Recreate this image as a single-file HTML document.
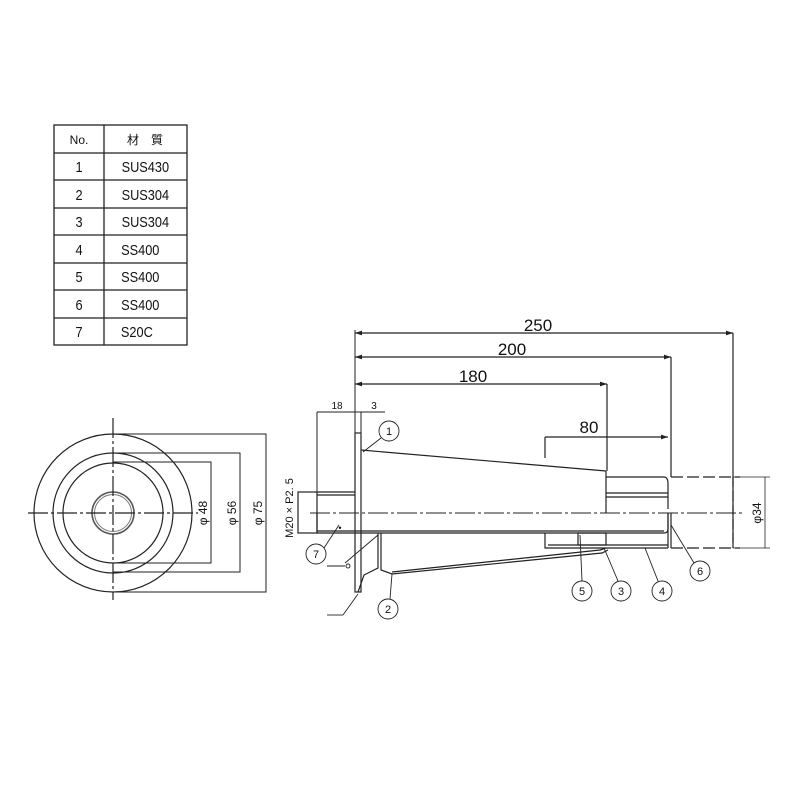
<!DOCTYPE html>
<html><head><meta charset="utf-8"><style>html,body{margin:0;padding:0;background:#fff}svg{display:block}</style></head>
<body>
<svg width="800" height="800" viewBox="0 0 800 800" xmlns="http://www.w3.org/2000/svg" font-family="'Liberation Sans','Noto Sans CJK JP',sans-serif">
<defs><marker id="a" markerWidth="6" markerHeight="4" refX="6" refY="2" orient="auto-start-reverse"><path d="M0 0 L6 2 L0 4z" fill="#222"/></marker></defs>
<rect width="800" height="800" fill="#fff"/>
<g stroke="#222" stroke-width="1.3" fill="none">
<rect x="54" y="125" width="133" height="220"/>
<line x1="104" y1="125" x2="104" y2="345"/>
<line x1="54" y1="153" x2="187" y2="153"/>
<line x1="54" y1="180" x2="187" y2="180"/>
<line x1="54" y1="208" x2="187" y2="208"/>
<line x1="54" y1="235" x2="187" y2="235"/>
<line x1="54" y1="263" x2="187" y2="263"/>
<line x1="54" y1="290" x2="187" y2="290"/>
<line x1="54" y1="318" x2="187" y2="318"/>
</g>
<g font-size="15" fill="#111" text-anchor="middle">
<text x="79" y="144" font-size="12">No.</text>
<text x="145" y="144" font-size="12">材　質</text>
<g transform="scale(0.85,1)">
<text x="93" y="172">1</text><text x="171" y="172">SUS430</text>
<text x="93" y="200">2</text><text x="171" y="200">SUS304</text>
<text x="93" y="227">3</text><text x="171" y="227">SUS304</text>
<text x="93" y="255">4</text><text x="165" y="255">SS400</text>
<text x="93" y="282">5</text><text x="165" y="282">SS400</text>
<text x="93" y="310">6</text><text x="165" y="310">SS400</text>
<text x="93" y="337">7</text><text x="161" y="337">S20C</text>
</g>
</g>
<g stroke="#222" stroke-width="1.2" fill="none">
<circle cx="113" cy="513" r="79"/>
<circle cx="113" cy="513" r="60"/>
<circle cx="113" cy="513" r="50"/>
<circle cx="113" cy="513" r="21" stroke="#555" stroke-width="1.6"/>
<circle cx="113" cy="513" r="18.5" stroke="#777" stroke-width="1"/>
<line x1="113" y1="418" x2="113" y2="600" stroke-dasharray="20,3,3,3"/>
<line x1="28" y1="513" x2="198" y2="513" stroke-dasharray="20,3,3,3"/>
<polyline points="113,462 211,462 211,563 113,563" stroke-width="1"/>
<polyline points="113,453 240,453 240,572 113,572" stroke-width="1"/>
<polyline points="113,434 266,434 266,592 113,592" stroke-width="1"/>
</g>
<g font-size="12" fill="#111" text-anchor="middle">
<text transform="translate(207,513) rotate(-90)">φ 48</text>
<text transform="translate(236,513) rotate(-90)">φ 56</text>
<text transform="translate(262,513) rotate(-90)">φ 75</text>
<text transform="translate(293,508) rotate(-90)" font-size="11">M20 × P2. 5</text>
<text transform="translate(761,513) rotate(-90)" font-size="12">φ34</text>
</g>
<g stroke="#222" stroke-width="1.2" fill="none">
<line x1="355" y1="330" x2="355" y2="433" stroke-width="1"/>
<line x1="355" y1="333" x2="733" y2="333" marker-start="url(#a)" marker-end="url(#a)"/>
<line x1="733" y1="333" x2="733" y2="548"/>
<line x1="355" y1="357" x2="671" y2="357" marker-start="url(#a)" marker-end="url(#a)"/>
<line x1="671" y1="357" x2="671" y2="477"/>
<line x1="355" y1="384" x2="607" y2="384" marker-start="url(#a)" marker-end="url(#a)"/>
<line x1="607" y1="384" x2="607" y2="471"/>
<line x1="545" y1="437" x2="668" y2="437" marker-end="url(#a)"/>
<line x1="545" y1="437" x2="545" y2="458"/>
<line x1="317" y1="412" x2="385" y2="412" stroke-width="1"/>
<line x1="317" y1="412" x2="317" y2="492" stroke-width="1"/>
<line x1="361" y1="412" x2="361" y2="433" stroke-width="1"/>
<rect x="355" y="433" width="6" height="159"/>
<line x1="361" y1="450" x2="606" y2="471"/>
<line x1="606" y1="471" x2="606" y2="513"/>
<path d="M606 477 H664 Q668 477 668 484 V509"/>
<line x1="606" y1="493" x2="668" y2="493"/>
<line x1="606" y1="497" x2="668" y2="497"/>
<rect x="298" y="492" width="19" height="41"/>
<line x1="317" y1="492" x2="355" y2="492"/>
<line x1="317" y1="495" x2="355" y2="495"/>
<path d="M317 513 V533 H664 Q668 533 668 529 V513"/>
<line x1="317" y1="531" x2="664" y2="531"/>
<line x1="668" y1="513" x2="668" y2="548"/>
<line x1="671" y1="513" x2="671" y2="548"/>
<polyline points="545,533 545,548 668,548"/>
<line x1="548" y1="545" x2="668" y2="545"/>
<rect x="578" y="533" width="28" height="12"/>
<polyline points="378,533 378,568 364,575 358,592"/>
<polyline points="381,533 381,570 392,574 602,553 608,550"/>
<polyline points="392,572 600,550 606,548"/>
<line x1="310" y1="513" x2="745" y2="513" stroke-dasharray="20,3,3,3" stroke-width="1"/>
<line x1="671" y1="477" x2="740" y2="477" stroke-dasharray="12,4"/>
<line x1="671" y1="548" x2="740" y2="548" stroke-dasharray="12,4"/>
<line x1="733" y1="477" x2="733" y2="548" stroke-dasharray="10,4"/>
<line x1="733" y1="477" x2="770" y2="477" stroke-width="0.8"/>
<line x1="733" y1="548" x2="770" y2="548" stroke-width="0.8"/>
<line x1="765" y1="477" x2="765" y2="548" stroke-width="0.8"/>
<g stroke-width="0.9">
<circle cx="389" cy="431" r="10"/><line x1="381" y1="438" x2="363" y2="452"/>
<circle cx="316" cy="554" r="10"/><line x1="324" y1="548" x2="339" y2="525"/>
<circle cx="388" cy="609" r="10"/><line x1="390" y1="599" x2="392" y2="574"/>
<circle cx="582" cy="591" r="10"/><line x1="582" y1="581" x2="580" y2="535"/>
<circle cx="621" cy="591" r="10"/><line x1="618" y1="581" x2="604" y2="548"/>
<circle cx="662" cy="591" r="10"/><line x1="658" y1="581" x2="645" y2="548"/>
<circle cx="700" cy="571" r="10"/><line x1="694" y1="563" x2="671" y2="525"/>
<line x1="345" y1="563" x2="378" y2="535"/><circle cx="348" cy="566" r="2"/>
<line x1="327" y1="566" x2="345" y2="566"/>
<line x1="327" y1="615" x2="343" y2="615"/><line x1="343" y1="615" x2="358" y2="594"/>
</g>
</g>
<g fill="#111" text-anchor="middle">
<text x="538" y="331" font-size="17">250</text>
<text x="512" y="355" font-size="17">200</text>
<text x="473" y="382" font-size="17">180</text>
<text x="589" y="433" font-size="17">80</text>
<text x="337" y="409" font-size="10">18</text>
<text x="374" y="409" font-size="10">3</text>
<g font-size="11"><text x="389" y="435">1</text><text x="316" y="558">7</text><text x="388" y="613">2</text><text x="582" y="595">5</text><text x="621" y="595">3</text><text x="662" y="595">4</text><text x="700" y="575">6</text></g>
<text x="340" y="531" font-size="9">•</text>
</g>
</svg>
</body></html>
